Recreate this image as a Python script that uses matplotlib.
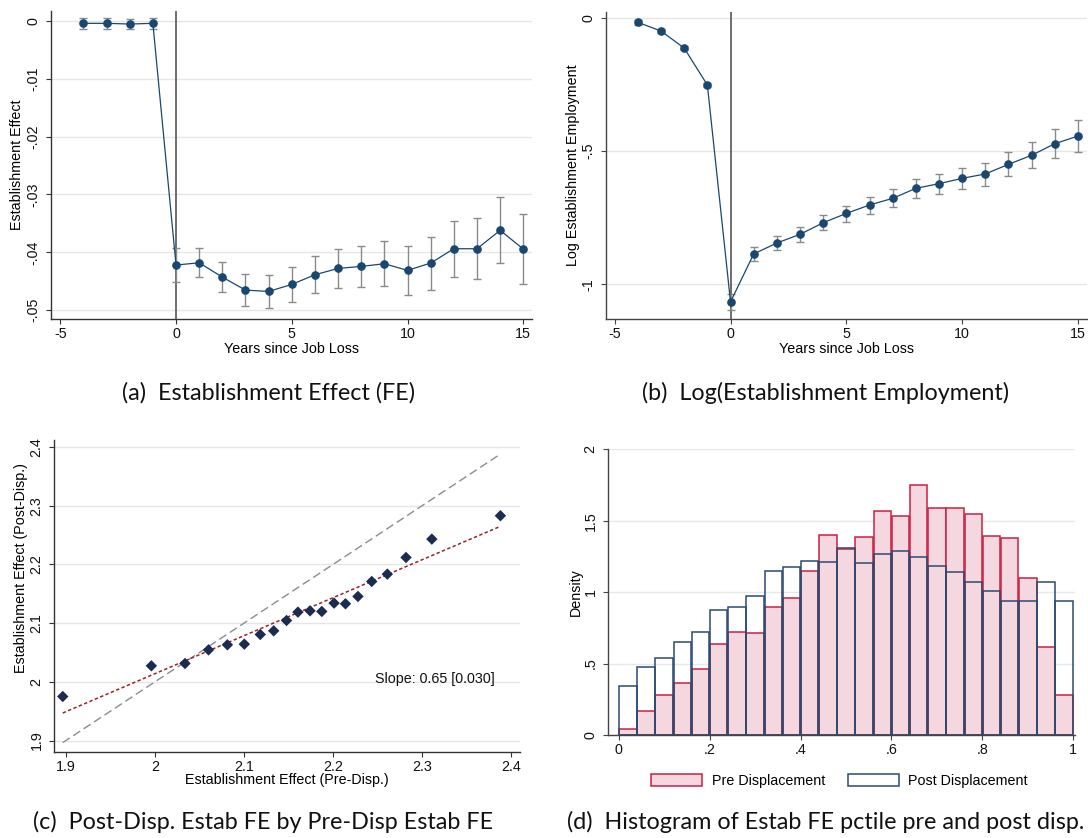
import numpy as np
import matplotlib
matplotlib.use("Agg")
import matplotlib.pyplot as plt
from matplotlib.patches import Patch

# ---------------- data ----------------
years = [-4, -3, -2, -1, 0, 1, 2, 3, 4, 5, 6, 7, 8, 9, 10, 11, 12, 13, 14, 15]

# (a) Establishment effect
fe_coef = [-0.00046, -0.00046, -0.00058, -0.00046, -0.04219, -0.04179, -0.04427, -0.04651,
           -0.04674, -0.04553, -0.04386, -0.04277, -0.04242, -0.04196, -0.04311, -0.04184,
           -0.03937, -0.03937, -0.03620, -0.03942]
fe_lo = [-0.0014, -0.0014, -0.0015, -0.0014, -0.0451, -0.0443, -0.0469, -0.0492, -0.0496,
         -0.0485, -0.0470, -0.0461, -0.0459, -0.0458, -0.0473, -0.0465, -0.0442, -0.0446,
         -0.0419, -0.0454]
fe_hi = [0.0005, 0.0005, 0.0003, 0.0005, -0.0392, -0.0393, -0.0417, -0.0437, -0.0439,
         -0.0425, -0.0407, -0.0394, -0.0389, -0.0380, -0.0389, -0.0373, -0.0345, -0.0341,
         -0.0305, -0.0334]
fe_yticks = [0, -0.01, -0.02, -0.03, -0.04, -0.05]
fe_yticklabels = ["0", "-.01", "-.02", "-.03", "-.04", "-.05"]

# (b) Log establishment employment
emp_coef = [-0.0175, -0.050, -0.114, -0.2525, -1.066, -0.886, -0.845, -0.8125, -0.769, -0.734,
            -0.7025, -0.6775, -0.640, -0.6225, -0.6025, -0.586, -0.550, -0.516, -0.4725, -0.444]
emp_lo = [-0.026, -0.058, -0.122, -0.261, -1.095, -0.911, -0.871, -0.841, -0.7975, -0.765,
          -0.735, -0.711, -0.676, -0.6625, -0.6425, -0.630, -0.595, -0.565, -0.526, -0.504]
emp_hi = [-0.009, -0.042, -0.106, -0.244, -1.035, -0.861, -0.819, -0.785, -0.740, -0.705,
          -0.6725, -0.644, -0.605, -0.585, -0.564, -0.544, -0.504, -0.466, -0.4175, -0.385]
emp_yticks = [0, -0.5, -1]
emp_yticklabels = ["0", "-.5", "-1"]

year_ticks = [-5, 0, 5, 10, 15]
year_ticklabels = ["-5", "0", "5", "10", "15"]

# (c) binned scatter post vs pre establishment FE
pre_fe = [1.8965, 1.996, 2.0338, 2.0602, 2.0814, 2.1004, 2.1183, 2.1334, 2.1478, 2.1606,
          2.1742, 2.1874, 2.2012, 2.2140, 2.2280, 2.2435, 2.2610, 2.2820, 2.3110, 2.3880]
post_fe = [1.975, 2.0273, 2.0313, 2.0545, 2.0631, 2.0642, 2.0807, 2.0869, 2.1045, 2.1188,
           2.1210, 2.1199, 2.1341, 2.1330, 2.1455, 2.1710, 2.1835, 2.2119, 2.2432, 2.2830]
fit_slope = 0.647
fit_intercept = 0.7199
slope_text = "Slope: 0.65 [0.030]"
fe_ticks = [1.9, 2.0, 2.1, 2.2, 2.3, 2.4]
fe_ticklabels = ["1.9", "2", "2.1", "2.2", "2.3", "2.4"]

# (d) histogram of establishment FE percentile
bin_edges = np.linspace(0, 1, 26)
pre_density = [0.044, 0.168, 0.278, 0.362, 0.463, 0.636, 0.720, 0.713, 0.893, 0.958, 1.150,
               1.400, 1.301, 1.383, 1.570, 1.530, 1.750, 1.586, 1.591, 1.547, 1.393, 1.379,
               1.096, 0.614, 0.283]
post_density = [0.341, 0.474, 0.540, 0.652, 0.720, 0.876, 0.893, 0.970, 1.150, 1.173, 1.217,
                1.213, 1.306, 1.201, 1.264, 1.290, 1.245, 1.182, 1.143, 1.068, 1.009, 0.937,
                0.939, 1.070, 0.937]
pct_ticks = [0, 0.2, 0.4, 0.6, 0.8, 1.0]
pct_ticklabels = ["0", ".2", ".4", ".6", ".8", "1"]
dens_ticks = [0, 0.5, 1.0, 1.5, 2.0]
dens_ticklabels = ["0", ".5", "1", "1.5", "2"]

captions = ["(a)  Establishment Effect (FE)",
            "(b)  Log(Establishment Employment)",
            "(c)  Post-Disp. Estab FE by Pre-Disp Estab FE",
            "(d)  Histogram of Estab FE pctile pre and post disp."]

# ---------------- style ----------------
plt.rcParams["font.family"] = ["Liberation Sans", "DejaVu Sans"]
plt.rcParams["axes.unicode_minus"] = False
FS = 10.3
NAVY = "#1a476f"
CI_GRAY = "#8a8a8a"
GRID = "#e6e6e6"
SPINE = "#333333"

W, H = 1088, 838
fig = plt.figure(figsize=(W / 100, H / 100), dpi=100)


def add_axes_px(left, top, right, bottom):
    return fig.add_axes([left / W, 1 - bottom / H, (right - left) / W, (bottom - top) / H])


def style_axes(ax, spine_color=SPINE, grid_color=GRID):
    for s in ("top", "right"):
        ax.spines[s].set_visible(False)
    for s in ("left", "bottom"):
        ax.spines[s].set_color(spine_color)
        ax.spines[s].set_linewidth(1.0)
    ax.tick_params(direction="out", length=3.8, width=0.8, color=spine_color,
                   labelsize=FS, labelcolor="#111111")
    ax.tick_params(axis="x", pad=2.0)
    ax.tick_params(axis="y", pad=4.0)
    ax.yaxis.grid(True, color=grid_color, linewidth=1.0)
    ax.xaxis.grid(False)
    ax.set_axisbelow(True)


def rotate_yticklabels(ax):
    for lab in ax.get_yticklabels():
        lab.set_rotation(90)
        lab.set_va("center")
        lab.set_ha("right")


def place_labels(ax, xlab_y, ylab_x, ylab_y=0.5):
    ax.xaxis.label.set_va("center")
    ax.xaxis.set_label_coords(0.5, xlab_y)
    ax.yaxis.label.set_va("center")
    ax.yaxis.set_label_coords(ylab_x, ylab_y)


def event_plot(ax, coef, lo, hi):
    ax.axvline(0, color="#555555", linewidth=1.2, zorder=1)
    yerr = [np.array(coef) - np.array(lo), np.array(hi) - np.array(coef)]
    ax.errorbar(years, coef, yerr=yerr, fmt="none", ecolor=CI_GRAY, elinewidth=1.0,
                capsize=3.0, capthick=1.0, zorder=2)
    ax.plot(years, coef, color=NAVY, linewidth=0.9, marker="o", markersize=5.2,
            markerfacecolor=NAVY, markeredgecolor=NAVY, zorder=3)
    ax.set_xticks(year_ticks)
    ax.set_xticklabels(year_ticklabels)
    ax.set_xlabel("Years since Job Loss", fontsize=FS)


# ---------------- panel (a) ----------------
ax = add_axes_px(51, 11, 532, 319)
style_axes(ax)
event_plot(ax, fe_coef, fe_lo, fe_hi)
ax.set_xlim(-5.40, 15.376)
ax.set_ylim(-0.0515, 0.00167)
ax.set_yticks(fe_yticks)
ax.set_yticklabels(fe_yticklabels)
rotate_yticklabels(ax)
ax.set_ylabel("Establishment Effect", fontsize=FS)
place_labels(ax, (319 - 349) / 308, (17.3 - 51) / 481)

# ---------------- panel (b) ----------------
ax = add_axes_px(606.3, 11.7, 1087, 319)
style_axes(ax, spine_color="#444444")
event_plot(ax, emp_coef, emp_lo, emp_hi)
ax.set_xlim(-5.363, 15.39)
ax.set_ylim(-1.130, 0.0225)
ax.set_yticks(emp_yticks)
ax.set_yticklabels(emp_yticklabels)
rotate_yticklabels(ax)
ax.set_ylabel("Log Establishment Employment", fontsize=FS)
place_labels(ax, (319 - 349) / 307.3, (572.7 - 606.3) / 480.7)

# ---------------- panel (c) ----------------
ax = add_axes_px(54.3, 440, 520, 751.7)
style_axes(ax)
xl = np.array([min(pre_fe), max(pre_fe)])
ax.plot(xl, xl, color="#8c8c8c", linewidth=1.0, dashes=(6, 3), zorder=2)
ax.plot(xl, fit_intercept + fit_slope * xl, color="#9b2226", linewidth=1.1,
        dashes=(2.2, 1.6), zorder=2)
ax.scatter(pre_fe, post_fe, marker="D", s=34, color="#1b2b52", edgecolors="none", zorder=3)
ax.text(2.247, 2.005, slope_text, ha="left", va="center", fontsize=FS, color="#111111")
ax.set_xlim(1.887, 2.410)
ax.set_ylim(1.881, 2.412)
ax.set_xticks(fe_ticks)
ax.set_xticklabels(fe_ticklabels)
ax.set_yticks(fe_ticks)
ax.set_yticklabels(fe_ticklabels)
rotate_yticklabels(ax)
ax.set_xlabel("Establishment Effect (Pre-Disp.)", fontsize=FS)
ax.set_ylabel("Establishment Effect (Post-Disp.)", fontsize=FS)
place_labels(ax, (751.7 - 780) / 311.7, (20.8 - 54.3) / 465.7, (751.7 - 567.7) / 311.7)

# ---------------- panel (d) ----------------
ax = add_axes_px(608.3, 449.3, 1075, 735)
style_axes(ax, spine_color="#444444", grid_color="#e3eaec")
bw = bin_edges[1] - bin_edges[0]
ax.bar(bin_edges[:-1] + bw * 0.02, pre_density, width=bw * 0.96, align="edge",
       color="#f5d7df", edgecolor="#cc1f45", linewidth=1.1, zorder=2)
ax.bar(bin_edges[:-1] + bw * 0.02, post_density, width=bw * 0.96, align="edge",
       color="none", edgecolor="#2b4a72", linewidth=1.1, zorder=3)
ax.set_xlim(-0.0229, 1.0037)
ax.set_ylim(0, 2.0)
ax.set_xticks(pct_ticks)
ax.set_xticklabels(pct_ticklabels)
ax.set_yticks(dens_ticks)
ax.set_yticklabels(dens_ticklabels)
rotate_yticklabels(ax)
ax.set_ylabel("Density", fontsize=FS)
ax.yaxis.label.set_va("center")
ax.yaxis.set_label_coords((575.8 - 608.3) / 466.7, 0.5)
handles = [Patch(facecolor="#f5d7df", edgecolor="#cc1f45", linewidth=1.1, label="Pre Displacement"),
           Patch(facecolor="white", edgecolor="#2b4a72", linewidth=1.1, label="Post Displacement")]
fig.legend(handles=handles, loc="center", bbox_to_anchor=(839.4 / W, 1 - 781 / H), ncol=2,
           frameon=False, fontsize=FS, handlelength=3.57, handleheight=0.86,
           handletextpad=0.65, columnspacing=1.57, borderpad=0, borderaxespad=0)

# ---------------- captions ----------------
cap_pos = [(268, 393), (826, 393), (263, 822), (826, 822)]
cap_texts = []
for (cx, cy), s in zip(cap_pos, captions):
    cap_texts.append(fig.text(cx / W, 1 - cy / H, s, ha="center", va="center",
                              fontsize=14, family=["Lato", "DejaVu Sans"], color="#111111"))
fig.canvas.draw()
r = fig.canvas.get_renderer()
w_c = cap_texts[2].get_window_extent(r).width
w_d = cap_texts[3].get_window_extent(r).width
scale = 0.5 * (457 / w_c + 525 / w_d)
for t in cap_texts:
    t.set_fontsize(14 * scale)

fig.savefig("out.png", dpi=100)
